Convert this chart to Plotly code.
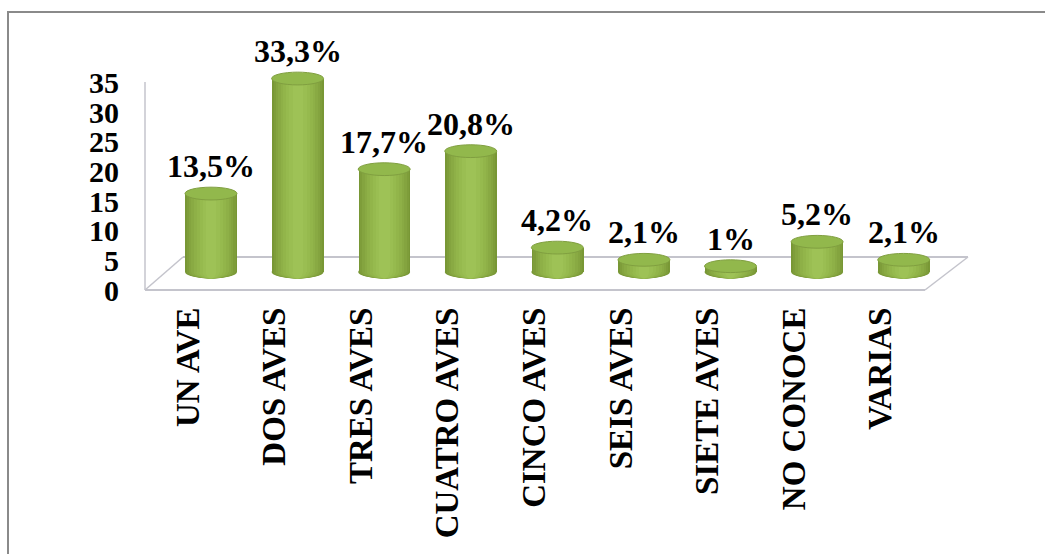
import plotly.graph_objects as go

categories = ["UN AVE", "DOS AVES", "TRES AVES", "CUATRO AVES", "CINCO AVES",
              "SEIS AVES", "SIETE AVES", "NO CONOCE", "VARIAS"]
values = [13.5, 33.3, 17.7, 20.8, 4.2, 2.1, 1.0, 5.2, 2.1]
y_ticks = [0, 5, 10, 15, 20, 25, 30, 35]

W, H = 1045, 554
FONT = "Liberation Serif, Times New Roman, serif"

def px_x(p):
    return p / W

def px_y(p):
    return 1 - p / H

idx = list(range(len(categories)))

# cylinder shading layers (width in category units, color) - smooth gradient
layers = [(0.60, "#789735"), (0.56, "#7e9d3a"), (0.51, "#84a43f"), (0.46, "#89aa43"),
          (0.40, "#8eb047"), (0.34, "#92b54a"), (0.27, "#96ba4e"), (0.20, "#9abe52"),
          (0.12, "#9ec256")]

fig = go.Figure()
for w, c in layers:
    fig.add_trace(go.Bar(x=idx, y=values, width=w, marker=dict(color=c, line=dict(width=0)),
                         yaxis="y2", hoverinfo="skip", showlegend=False))
# invisible trace so the value (tick) axis is drawn
fig.add_trace(go.Scatter(x=[0], y=[0], mode="markers", marker=dict(opacity=0),
                         xaxis="x", yaxis="y", hoverinfo="skip", showlegend=False))

ELL = 1.1  # half height of the cylinder caps in data units
shapes = []
# bottom caps (below bars)
for i in idx:
    for w, c in layers:
        shapes.append(dict(type="circle", xref="x", yref="y2", layer="below",
                           x0=i - w / 2, x1=i + w / 2, y0=-ELL, y1=ELL,
                           fillcolor=c, line=dict(width=0)))
# top caps
for i, v in zip(idx, values):
    shapes.append(dict(type="circle", xref="x", yref="y2", layer="above",
                       x0=i - 0.30, x1=i + 0.30, y0=v - ELL, y1=v + ELL,
                       fillcolor="#92b84c", line=dict(color="#809f40", width=1)))

# 3D floor and back wall line (pixel positions of the chart frame)
floor_col = "#c4c4cc"
shapes += [
    dict(type="line", xref="paper", yref="paper", x0=px_x(145), y0=px_y(290), x1=px_x(925), y1=px_y(290),
         line=dict(color=floor_col, width=2), layer="below"),
    dict(type="line", xref="paper", yref="paper", x0=px_x(183), y0=px_y(257), x1=px_x(968), y1=px_y(257),
         line=dict(color=floor_col, width=2), layer="below"),
    dict(type="line", xref="paper", yref="paper", x0=px_x(145), y0=px_y(290), x1=px_x(183), y1=px_y(257),
         line=dict(color=floor_col, width=1.5), layer="below"),
    dict(type="line", xref="paper", yref="paper", x0=px_x(925), y0=px_y(290), x1=px_x(968), y1=px_y(257),
         line=dict(color=floor_col, width=1.5), layer="below"),
    dict(type="line", xref="paper", yref="paper", x0=px_x(145), y0=px_y(82), x1=px_x(145), y1=px_y(290),
         line=dict(color=floor_col, width=1.5), layer="below"),
    # outer frame
    dict(type="rect", xref="paper", yref="paper", x0=px_x(8), y0=px_y(W), x1=1.05, y1=px_y(12),
         line=dict(color="#8a8a8a", width=2), fillcolor="rgba(0,0,0,0)", layer="below"),
]

annotations = []
for i, v in zip(idx, values):
    label = f"{v:g}".replace(".", ",") + "%"
    annotations.append(dict(x=i, y=v + ELL, xref="x", yref="y2", text=label, showarrow=False,
                            yanchor="bottom", xanchor="center", yshift=1,
                            font=dict(family=FONT, size=32, color="black", weight="bold")))

fig.update_layout(
    width=W, height=H,
    margin=dict(l=0, r=0, t=0, b=0, autoexpand=False),
    paper_bgcolor="white", plot_bgcolor="rgba(0,0,0,0)",
    barmode="overlay",
    bargap=0,
    shapes=shapes,
    annotations=annotations,
    font=dict(family=FONT, color="black"),
    xaxis=dict(domain=[px_x(167.7), px_x(947)], range=[-0.5, 8.5], anchor="y",
               tickmode="array", tickvals=idx, ticktext=categories, tickangle=-90,
               ticks="", showgrid=False, zeroline=False, showline=False, automargin=False,
               ticklabelshift=-23, ticklabelstandoff=10,
               tickfont=dict(family=FONT, size=33, color="black", weight="bold")),
    yaxis=dict(domain=[px_y(290), px_y(82.5)], range=[0, 35], anchor="free", position=px_x(145),
               tickmode="array", tickvals=y_ticks, ticks="", showgrid=False, zeroline=False,
               showline=False, ticklabelstandoff=26, automargin=False,
               tickfont=dict(family=FONT, size=30, color="black", weight="bold")),
    yaxis2=dict(domain=[px_y(272 + 1.5 * 5.81), px_y(272 - 35 * 5.81)], range=[-1.5, 35],
                anchor="x", visible=False, showgrid=False, zeroline=False, automargin=False),
)

fig.write_html("out.html")
